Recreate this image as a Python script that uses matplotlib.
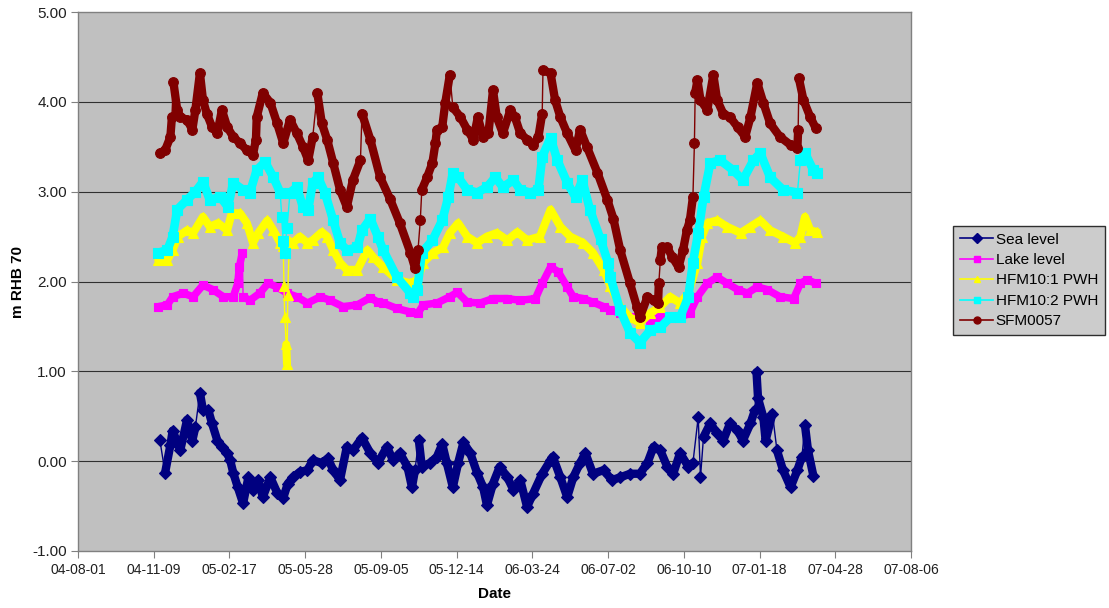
import matplotlib
matplotlib.use("Agg")
import matplotlib.pyplot as plt
import matplotlib.dates as mdates
import numpy as np
import pandas as pd

plt.rcParams['font.family'] = ['Liberation Sans', 'DejaVu Sans']

# Days are counted from 2004-08-01
base_date = pd.Timestamp('2004-08-01')
tick_dates = pd.date_range('2004-08-01', periods=12, freq='100D')
y_ticks = [-1, 0, 1, 2, 3, 4, 5]

sea_day = [108, 115, 122, 125, 135, 144, 151, 155, 161, 165, 172, 177, 184, 190, 197, 201,
           205, 211, 218, 225, 231, 238, 244, 254, 263, 271, 277, 284, 293, 303, 310, 322,
           330, 337, 346, 355, 363, 375, 386, 396, 408, 416, 425, 435, 441, 445, 450, 454,
           465, 474, 481, 487, 495, 502, 509, 518, 527, 535, 540, 548, 557, 567, 575, 584,
           593, 601, 613, 624, 627, 637, 646, 654, 663, 670, 680, 694, 705, 716, 729, 742,
           752, 760, 769, 778, 786, 795, 806, 812, 819, 822, 826, 835, 844, 852, 861, 871,
           878, 888, 894, 896, 898, 905, 908, 917, 923, 931, 941, 950, 956, 960, 964, 971]
sea_val = [0.24, -0.13, 0.18, 0.34, 0.12, 0.46, 0.23, 0.38, 0.76, 0.57, 0.57, 0.42, 0.23, 0.16, 0.09, 0.01,
           -0.13, -0.29, -0.47, -0.18, -0.32, -0.21, -0.40, -0.18, -0.35, -0.41, -0.25, -0.18, -0.12, -0.10, 0.01, -0.02,
           0.03, -0.10, -0.21, 0.16, 0.12, 0.26, 0.09, -0.02, 0.16, 0.01, 0.09, -0.06, -0.29, -0.10, 0.24, -0.06,
           -0.02, 0.05, 0.19, -0.02, -0.29, -0.02, 0.21, 0.09, -0.13, -0.29, -0.49, -0.25, -0.06, -0.18, -0.32, -0.21,
           -0.51, -0.36, -0.14, 0.01, 0.05, -0.18, -0.40, -0.18, -0.02, 0.09, -0.14, -0.10, -0.21, -0.18, -0.14, -0.14,
           -0.02, 0.16, 0.12, -0.06, -0.14, 0.09, -0.06, -0.02, 0.49, -0.18, 0.27, 0.42, 0.31, 0.23, 0.42, 0.34,
           0.23, 0.42, 0.57, 0.99, 0.70, 0.49, 0.23, 0.53, 0.12, -0.10, -0.29, -0.10, 0.05, 0.40, 0.12, -0.16]

lake_day = [106, 118, 125, 139, 152, 165, 178, 192, 205, 211, 213, 217, 218, 227, 240, 251,
            263, 276, 289, 303, 320, 333, 350, 369, 386, 396, 403, 421, 439, 449, 456, 474,
            491, 501, 514, 531, 548, 567, 584, 604, 613, 624, 634, 646, 654, 667, 680, 694,
            703, 716, 729, 742, 756, 769, 782, 795, 808, 818, 831, 844, 857, 871, 884, 897,
            910, 927, 945, 954, 963, 974]
lake_val = [1.72, 1.74, 1.83, 1.87, 1.83, 1.96, 1.91, 1.83, 1.83, 1.98, 2.16, 2.32, 1.83, 1.79, 1.87, 1.98,
            1.94, 1.87, 1.83, 1.76, 1.83, 1.79, 1.72, 1.74, 1.82, 1.77, 1.76, 1.70, 1.66, 1.65, 1.74, 1.76,
            1.83, 1.88, 1.77, 1.76, 1.81, 1.81, 1.79, 1.81, 1.98, 2.16, 2.11, 1.94, 1.83, 1.81, 1.77, 1.72,
            1.68, 1.65, 1.60, 1.60, 1.57, 1.60, 1.60, 1.60, 1.65, 1.83, 1.98, 2.05, 1.98, 1.91, 1.87, 1.94,
            1.91, 1.83, 1.81, 1.98, 2.02, 1.98]

hfm1_day = [106, 118, 125, 132, 144, 152, 165, 174, 185, 197, 203, 214, 223, 231, 238, 250,
            258, 267, 271, 272, 273, 275, 276, 277, 279, 284, 293, 303, 310, 322, 329, 337,
            346, 355, 369, 382, 390, 403, 421, 439, 448, 456, 469, 482, 491, 502, 514, 527,
            540, 553, 567, 580, 593, 610, 624, 637, 650, 667, 680, 694, 703, 716, 729, 742,
            756, 769, 782, 795, 806, 818, 824, 831, 844, 857, 875, 888, 901, 914, 931, 947,
            954, 960, 967, 976]
hfm1_val = [2.24, 2.24, 2.35, 2.50, 2.57, 2.54, 2.72, 2.61, 2.65, 2.57, 2.76, 2.76, 2.65, 2.43, 2.54, 2.68,
            2.57, 2.43, 2.40, 1.95, 1.60, 1.30, 1.08, 1.85, 2.45, 2.43, 2.50, 2.43, 2.46, 2.55, 2.50, 2.35,
            2.21, 2.13, 2.13, 2.35, 2.27, 2.16, 2.02, 1.98, 2.02, 2.21, 2.32, 2.38, 2.54, 2.65, 2.50, 2.43,
            2.50, 2.54, 2.46, 2.55, 2.46, 2.50, 2.80, 2.61, 2.50, 2.43, 2.32, 2.13, 1.95, 1.72, 1.60, 1.54,
            1.65, 1.72, 1.83, 1.76, 1.87, 2.21, 2.50, 2.65, 2.68, 2.61, 2.54, 2.61, 2.68, 2.57, 2.50, 2.43,
            2.50, 2.72, 2.57, 2.55]

hfm2_day = [106, 118, 125, 131, 144, 155, 165, 174, 188, 198, 205, 218, 227, 236, 247, 258,
            267, 269, 271, 273, 276, 280, 289, 297, 304, 310, 317, 326, 337, 346, 355, 369,
            375, 386, 396, 403, 421, 439, 443, 448, 454, 468, 481, 489, 495, 502, 514, 527,
            540, 551, 561, 575, 584, 597, 608, 613, 624, 633, 646, 657, 666, 676, 690, 700,
            703, 716, 729, 742, 756, 769, 782, 795, 806, 812, 819, 826, 835, 848, 865, 878,
            892, 901, 914, 931, 950, 954, 960, 971, 976]
hfm2_val = [2.32, 2.35, 2.50, 2.80, 2.91, 3.00, 3.11, 2.91, 2.94, 2.83, 3.10, 3.02, 2.99, 3.24, 3.33, 3.16,
            2.99, 2.72, 2.45, 2.32, 2.60, 2.99, 3.05, 2.83, 2.80, 3.10, 3.16, 2.99, 2.68, 2.43, 2.35, 2.38,
            2.57, 2.70, 2.50, 2.35, 2.05, 1.87, 1.83, 1.91, 2.32, 2.46, 2.68, 2.94, 3.21, 3.16, 3.02, 2.99,
            3.05, 3.16, 3.05, 3.13, 3.02, 2.99, 3.02, 3.39, 3.60, 3.35, 3.10, 2.94, 3.13, 2.80, 2.47, 2.21,
            2.05, 1.68, 1.43, 1.32, 1.46, 1.49, 1.60, 1.60, 1.83, 2.21, 2.54, 2.94, 3.32, 3.35, 3.24, 3.13,
            3.35, 3.43, 3.16, 3.02, 2.99, 3.35, 3.43, 3.24, 3.21]

sfm_day = [108, 115, 122, 124, 126, 131, 135, 144, 151, 155, 161, 165, 170, 177, 184, 190,
           197, 205, 214, 223, 231, 235, 236, 244, 254, 263, 271, 280, 289, 297, 304, 310,
           316, 322, 329, 337, 346, 355, 363, 373, 375, 386, 399, 412, 425, 439, 445, 449,
           452, 454, 461, 468, 472, 474, 481, 485, 491, 495, 505, 514, 522, 528, 535, 542,
           548, 553, 561, 571, 577, 584, 593, 601, 608, 613, 614, 624, 630, 637, 646, 657,
           663, 672, 686, 699, 707, 716, 729, 738, 742, 752, 760, 766, 767, 769, 771, 778,
           785, 793, 799, 804, 808, 812, 814, 815, 818, 822, 831, 839, 844, 852, 861, 871,
           881, 888, 897, 905, 914, 927, 941, 950, 951, 952, 958, 967, 974]
sfm_val = [3.43, 3.46, 3.61, 3.83, 4.22, 3.91, 3.83, 3.80, 3.69, 3.91, 4.32, 4.02, 3.87, 3.72, 3.65, 3.91,
           3.72, 3.61, 3.54, 3.46, 3.41, 3.58, 3.83, 4.10, 3.99, 3.76, 3.54, 3.80, 3.65, 3.50, 3.35, 3.61,
           4.10, 3.76, 3.58, 3.32, 3.02, 2.83, 3.13, 3.35, 3.87, 3.58, 3.16, 2.92, 2.65, 2.32, 2.15, 2.35,
           2.68, 3.02, 3.16, 3.32, 3.54, 3.69, 3.72, 3.99, 4.30, 3.94, 3.83, 3.69, 3.58, 3.83, 3.61, 3.65,
           4.13, 3.83, 3.65, 3.91, 3.83, 3.65, 3.58, 3.52, 3.61, 3.87, 4.35, 4.32, 4.02, 3.83, 3.65, 3.46,
           3.69, 3.50, 3.21, 2.91, 2.70, 2.35, 1.98, 1.72, 1.60, 1.83, 1.79, 1.76, 1.98, 2.24, 2.38, 2.38,
           2.27, 2.16, 2.35, 2.57, 2.68, 2.94, 3.54, 4.10, 4.24, 4.02, 3.91, 4.30, 4.02, 3.87, 3.83, 3.72,
           3.61, 3.83, 4.21, 3.99, 3.76, 3.61, 3.52, 3.49, 3.69, 4.26, 4.02, 3.83, 3.71]

# label, days, values, colour, marker, marker size, trace width,
# (minimum step, minimum rate per day) that counts as a sudden jump
series = [
    ("Sea level",    sea_day,  sea_val,  "#000080", "D", 6.0, 6.0, (0.30, 0.05)),
    ("Lake level",   lake_day, lake_val, "#FF00FF", "s", 6.2, 5.4, (0.25, 0.08)),
    ("HFM10:1 PWH",  hfm1_day, hfm1_val, "#FFFF00", "^", 7.2, 5.8, (0.25, 0.08)),
    ("HFM10:2 PWH",  hfm2_day, hfm2_val, "#00FFFF", "s", 6.6, 6.2, (0.25, 0.08)),
    ("SFM0057",      sfm_day,  sfm_val,  "#800000", "o", 7.0, 6.0, (0.25, 0.08)),
]


def band_trace(days, dates, vals, jump):
    """Dates/values with breaks inserted at sudden jumps."""
    min_step, min_rate = jump
    xs, ys = [], []
    for i, (d, v) in enumerate(zip(dates, vals)):
        xs.append(d)
        ys.append(v)
        if i + 1 < len(vals):
            step = abs(vals[i + 1] - v)
            rate = step / max(days[i + 1] - days[i], 1)
            if step > min_step and rate > min_rate:
                xs.append(d)
                ys.append(np.nan)
    return xs, ys


fig = plt.figure(figsize=(11.09, 6.08), dpi=100)
ax = fig.add_axes([78 / 1109, 1 - 551 / 608, (911 - 78) / 1109, (551 - 12) / 608])
ax.set_facecolor("#C0C0C0")

handles = []
for k, (label, days, vals, color, marker, ms, lw, jump) in enumerate(series):
    dates = list(base_date + pd.to_timedelta(days, unit="D"))
    z = 3 + k
    ax.plot(dates, vals, color=color, lw=1.0, zorder=z)
    bx, by = band_trace(days, dates, vals, jump)
    ax.plot(bx, by, color=color, lw=lw, solid_capstyle="round",
            solid_joinstyle="round", zorder=z)
    ax.plot(dates, vals, ls="none", marker=marker, ms=ms,
            mfc=color, mec=color, mew=0.8, zorder=z)
    h, = ax.plot([], [], color=color, lw=1.2, marker=marker, ms=5,
                 mfc=color, mec=color, label=label)
    handles.append(h)

ax.set_xlim(tick_dates[0], tick_dates[-1])
ax.set_ylim(-1, 5)
ax.set_xticks(tick_dates)
ax.xaxis.set_major_formatter(mdates.DateFormatter("%y-%m-%d"))
ax.set_yticks(y_ticks)
ax.set_yticklabels([f"{v:.2f}" for v in y_ticks])
ax.tick_params(axis="both", direction="out", length=5, width=0.8, color="#808080",
               labelcolor="#202020")
ax.tick_params(axis="x", labelsize=10, pad=4)
ax.tick_params(axis="y", labelsize=11, pad=3)

for y in y_ticks[1:-1]:
    ax.axhline(y, color="#303030", lw=0.8, zorder=1)
for sp in ax.spines.values():
    sp.set_color("#808080")
    sp.set_linewidth(1.0)

ax.set_xlabel("Date", fontsize=11, fontweight="bold", va="center")
ax.xaxis.set_label_coords(0.5, (551 - 594) / 539)
ax.set_ylabel("m RHB 70", fontsize=11, fontweight="bold", va="center")
ax.yaxis.set_label_coords((18 - 78) / 833, 0.5)

leg = fig.legend(handles=handles, loc="center left", bbox_to_anchor=(953 / 1109, 1 - 280.5 / 608),
                 fontsize=11, frameon=True, fancybox=False, handlelength=2.2,
                 handletextpad=0.15, labelspacing=0.42, borderpad=0.45, borderaxespad=0)
leg.get_frame().set_facecolor("#C0C0C0")
leg.get_frame().set_edgecolor("#000000")
leg.get_frame().set_linewidth(1.0)

fig.savefig("out.png", dpi=100, facecolor="white")
